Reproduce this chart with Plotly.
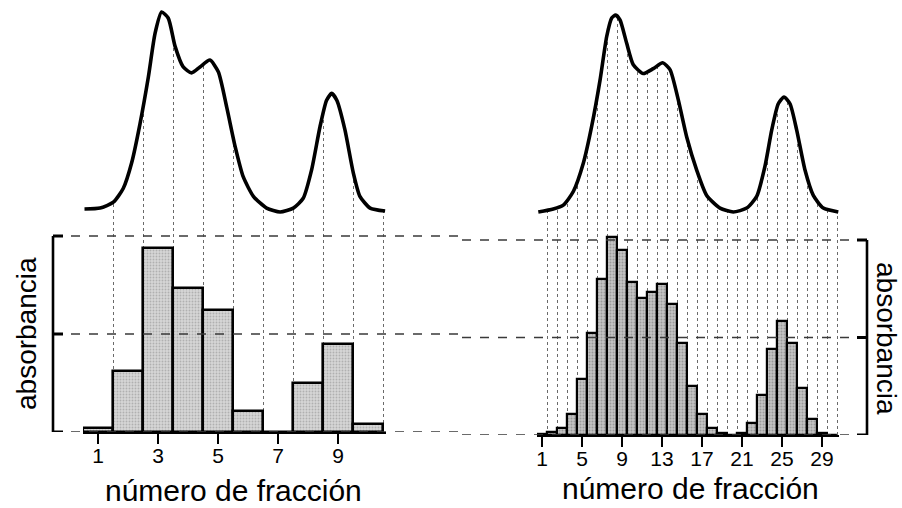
import plotly.graph_objects as go

W, H = 902, 508

# ---------------- data ----------------
left_fractions = list(range(1, 11))
left_absorb = [0.04, 0.62, 1.88, 1.47, 1.24, 0.21, 0.0, 0.50, 0.90, 0.08]
left_ticks = [1, 3, 5, 7, 9]

right_fractions = list(range(1, 31))
right_absorb = [0.01, 0.03, 0.07, 0.22, 0.57, 1.05, 1.60, 2.03, 1.90, 1.57,
                1.41, 1.47, 1.55, 1.34, 0.94, 0.50, 0.22, 0.07, 0.02, 0.0,
                0.02, 0.12, 0.41, 0.88, 1.17, 0.94, 0.48, 0.16, 0.02, 0.0]
right_ticks = [1, 5, 9, 13, 17, 21, 25, 29]

# continuous elution profiles (upper curves), fraction position vs absorbance
left_curve_x = [0.55, 1.07, 1.51, 1.84, 2.12, 2.40, 2.68, 2.90, 3.12, 3.34, 3.57, 3.84,
                4.12, 4.40, 4.73, 5.01, 5.29, 5.57, 5.84, 6.18, 6.62, 7.07, 7.51, 7.84,
                8.12, 8.40, 8.62, 8.79, 8.96, 9.23, 9.51, 9.73, 10.07, 10.57]
left_curve_y = [0.03, 0.04, 0.10, 0.24, 0.50, 0.90, 1.38, 1.82, 2.04, 1.98, 1.69, 1.48,
                1.42, 1.48, 1.55, 1.43, 1.07, 0.67, 0.36, 0.16, 0.04, 0.00, 0.04, 0.14,
                0.43, 0.87, 1.14, 1.21, 1.14, 0.84, 0.40, 0.16, 0.04, 0.01]

right_curve_x = [0.63, 2.13, 3.13, 4.13, 5.13, 5.97, 6.80, 7.47, 7.97, 8.37, 8.80, 9.47,
                 10.13, 11.13, 12.13, 13.07, 13.80, 14.63, 15.47, 16.47, 17.47, 18.80,
                 20.13, 21.47, 22.47, 23.30, 23.97, 24.63, 25.20, 25.80, 26.47, 27.30,
                 28.13, 29.13, 30.63]
right_curve_y = [0.00, 0.03, 0.07, 0.21, 0.50, 0.88, 1.35, 1.80, 1.99, 2.02, 1.97, 1.73,
                 1.51, 1.42, 1.47, 1.53, 1.46, 1.15, 0.77, 0.43, 0.17, 0.04,
                 0.00, 0.04, 0.16, 0.47, 0.84, 1.11, 1.18, 1.11, 0.84, 0.43,
                 0.17, 0.04, 0.00]

ref_levels = [0, 1, 2]
axis_label = "número de fracción"
y_label = "absorbancia"

# ---------------- geometry ----------------
def px(x):
    return x / W

def py(y):
    return 1 - y / H

L_BASE, L_UNIT = 432, 98.0
R_BASE, R_UNIT = 435, 97.5
CURVE_BASE = 212
L_TOP = L_BASE / L_UNIT
R_TOP = R_BASE / R_UNIT
L_OFF = (L_BASE - CURVE_BASE) / L_UNIT
R_OFF = (R_BASE - CURVE_BASE) / R_UNIT

FONT = "Liberation Sans, Arial, Helvetica, sans-serif"

fig = go.Figure()

# bars
fig.add_trace(go.Bar(
    x=left_fractions, y=left_absorb, xaxis="x", yaxis="y", width=1.0,
    marker=dict(color="#cfcfcf", line=dict(color="black", width=2.6),
                pattern=dict(shape=".", fgcolor="#8a8a8a", bgcolor="#d6d6d6",
                             size=3, solidity=0.3)),
    showlegend=False, hoverinfo="skip"))
fig.add_trace(go.Bar(
    x=right_fractions, y=right_absorb, xaxis="x2", yaxis="y2", width=1.0,
    marker=dict(color="#bdbdbd", line=dict(color="black", width=2.2),
                pattern=dict(shape=".", fgcolor="#6e6e6e", bgcolor="#c4c4c4",
                             size=3, solidity=0.35)),
    showlegend=False, hoverinfo="skip"))

# white masks above the curves (hide the drop lines above the profile), then the curves
for cx, cy, off, top, xa, ya in [(left_curve_x, left_curve_y, L_OFF, L_TOP, "x", "y"),
                                 (right_curve_x, right_curve_y, R_OFF, R_TOP, "x2", "y2")]:
    fig.add_trace(go.Scatter(x=cx, y=[top] * len(cx), xaxis=xa, yaxis=ya, mode="lines",
                             line=dict(width=0, color="white"), showlegend=False,
                             hoverinfo="skip"))
    fig.add_trace(go.Scatter(x=cx, y=[v + off for v in cy], xaxis=xa, yaxis=ya,
                             mode="lines", fill="tonexty", fillcolor="white",
                             line=dict(color="black", width=3.6, shape="spline",
                                       smoothing=0.6),
                             showlegend=False, hoverinfo="skip"))

left_edges = [f - 0.5 for f in left_fractions] + [left_fractions[-1] + 0.5]
right_edges = [f - 0.5 for f in right_fractions] + [right_fractions[-1] + 0.5]

common_x = dict(
    showgrid=False, zeroline=False, showline=True, linecolor="black", linewidth=2,
    ticks="outside", ticklen=10, tickwidth=2, tickcolor="black", automargin=False,
    ticklabelstandoff=-6,
    tickfont=dict(family=FONT, size=21, color="black"), tickmode="array",
)

fig.update_layout(
    width=W, height=H, margin=dict(l=0, r=0, t=0, b=0, autoexpand=False),
    paper_bgcolor="white", plot_bgcolor="rgba(0,0,0,0)",
    bargap=0, showlegend=False,
    xaxis=dict(domain=[px(83), px(386)], range=[0.5, 10.6], anchor="y",
               tickvals=left_ticks,
               minor=dict(tickmode="array", tickvals=left_edges, showgrid=True,
                          gridcolor="#6a6a6a", griddash="dot", gridwidth=1, ticks=""),
               **common_x),
    yaxis=dict(domain=[py(L_BASE), 1], range=[0, L_TOP], visible=False,
               showgrid=False, zeroline=False, automargin=False),
    xaxis2=dict(domain=[px(537), px(839)], range=[0.5, 30.7], anchor="y2",
                tickvals=right_ticks,
                minor=dict(tickmode="array", tickvals=right_edges, showgrid=True,
                           gridcolor="#6a6a6a", griddash="dot", gridwidth=1, ticks=""),
                **common_x),
    yaxis2=dict(domain=[py(R_BASE), 1], range=[0, R_TOP], visible=False,
                showgrid=False, zeroline=False, automargin=False),
)

shapes = []
# dashed reference lines across each panel
for lv in ref_levels:
    shapes.append(dict(type="line", xref="paper", yref="y", x0=px(53), x1=px(462),
                       y0=lv, y1=lv, layer="above",
                       line=dict(color="#3a3a3a", width=1.4, dash="dash")))
    shapes.append(dict(type="line", xref="paper", yref="y2", x0=px(462), x1=px(867),
                       y0=lv, y1=lv, layer="above",
                       line=dict(color="#3a3a3a", width=1.4, dash="dash")))
# brackets
shapes.append(dict(type="line", xref="paper", yref="y", x0=px(53), x1=px(53),
                   y0=ref_levels[0], y1=ref_levels[-1], line=dict(color="black", width=2.6)))
shapes.append(dict(type="line", xref="paper", yref="y2", x0=px(867), x1=px(867),
                   y0=ref_levels[0], y1=ref_levels[-1], line=dict(color="black", width=2.6)))
for lv in ref_levels:
    shapes.append(dict(type="line", xref="paper", yref="y", x0=px(53), x1=px(63),
                       y0=lv, y1=lv, line=dict(color="black", width=3)))
    shapes.append(dict(type="line", xref="paper", yref="y2", x0=px(857), x1=px(867),
                       y0=lv, y1=lv, line=dict(color="black", width=3)))
fig.update_layout(shapes=shapes)

annotations = [
    dict(text=axis_label, xref="paper", yref="paper", x=px(233), y=py(490),
         xanchor="center", yanchor="middle", showarrow=False,
         font=dict(family=FONT, size=30, color="black")),
    dict(text=axis_label, xref="paper", yref="paper", x=px(690), y=py(488),
         xanchor="center", yanchor="middle", showarrow=False,
         font=dict(family=FONT, size=30, color="black")),
    dict(text=y_label, xref="paper", yref="paper", x=px(26), y=py(334),
         xanchor="center", yanchor="middle", showarrow=False, textangle=-90,
         font=dict(family=FONT, size=28, color="black")),
    dict(text=y_label, xref="paper", yref="paper", x=px(887), y=py(338),
         xanchor="center", yanchor="middle", showarrow=False, textangle=90,
         font=dict(family=FONT, size=28, color="black")),
]
fig.update_layout(annotations=annotations)

fig.write_html(
    "out.html",
    config={"displayModeBar": False},
    post_script="document.body.style.margin='0';document.body.style.padding='0';",
)
